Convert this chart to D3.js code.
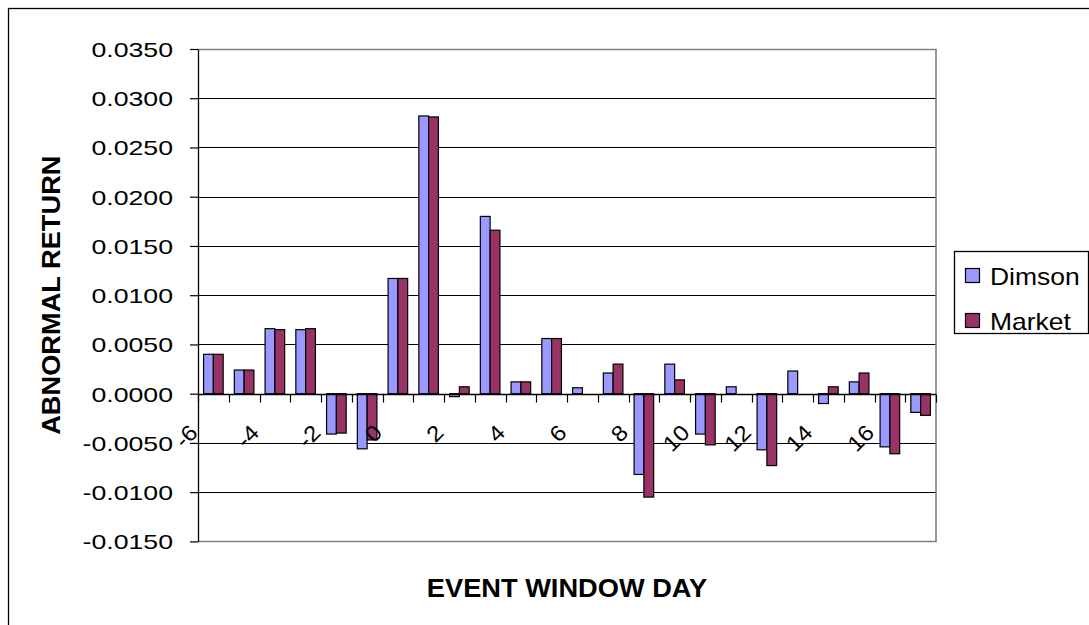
<!DOCTYPE html>
<html>
<head>
<meta charset="utf-8">
<script src="https://cdn.jsdelivr.net/npm/d3@7"></script>
<style>
  html, body { margin: 0; padding: 0; background: #fff; }
  svg { display: block; font-family: "Liberation Sans", Arial, sans-serif; }
</style>
</head>
<body>
<svg id="chart" width="1089" height="625"></svg>
<script>
// Event window days and abnormal returns for the two models
const days = [-6, -5, -4, -3, -2, -1, 0, 1, 2, 3, 4, 5, 6, 7, 8, 9, 10, 11, 12, 13, 14, 15, 16, 17];
const dimson = [0.0040, 0.0024, 0.0066, 0.0065, -0.0041, -0.0056, 0.0117, 0.0282, -0.0003, 0.0180, 0.0012, 0.0056,
                0.0006, 0.0021, -0.0082, 0.0030, -0.0041, 0.0007, -0.0057, 0.0023, -0.0010, 0.0012, -0.0054, -0.0019];
const market = [0.0040, 0.0024, 0.0065, 0.0066, -0.0040, -0.0047, 0.0117, 0.0281, 0.0007, 0.0166, 0.0012, 0.0056,
                0.0000, 0.0030, -0.0105, 0.0014, -0.0052, 0.0000, -0.0073, 0.0000, 0.0007, 0.0021, -0.0061, -0.0022];
const seriesNames = ["Dimson", "Market"];
const seriesColors = ["#9999FF", "#993366"];
const yTicks = [-0.015, -0.010, -0.005, 0, 0.005, 0.010, 0.015, 0.020, 0.025, 0.030, 0.035];
const xLabelDays = [-6, -4, -2, 0, 2, 4, 6, 8, 10, 12, 14, 16];

const svg = d3.select("#chart");
const plot = { left: 198, right: 936, top: 49, bottom: 541.4 };

// Outer chart frame
svg.append("rect")
  .attr("x", 8.5).attr("y", 8.5).attr("width", 1100).attr("height", 700)
  .attr("fill", "#fff").attr("stroke", "#000").attr("stroke-width", 1.3);

const x0 = d3.scaleBand().domain(days).range([plot.left, plot.right]).padding(0);
const x1 = d3.scaleBand().domain(seriesNames).range([0, x0.bandwidth()])
  .paddingInner(0).paddingOuter(0.57);
const y = d3.scaleLinear().domain([-0.015, 0.035]).range([plot.bottom, plot.top]);

// Horizontal gridlines
svg.append("g").selectAll("line")
  .data(yTicks.filter(v => v < 0.035 && v > -0.015))
  .join("line")
  .attr("x1", plot.left).attr("x2", plot.right)
  .attr("y1", d => Math.round(y(d)) + 0.5).attr("y2", d => Math.round(y(d)) + 0.5)
  .attr("stroke", "#000").attr("stroke-width", 1.2);

// Plot area border (top, right, bottom)
svg.append("path")
  .attr("d", `M${plot.left},${Math.round(plot.top)+0.5}H${plot.right}V${Math.round(plot.bottom)+0.5}H${plot.left}`)
  .attr("fill", "none").attr("stroke", "#808080").attr("stroke-width", 1.6);

// Bars
const rows = days.map((d, i) => ({ day: d, values: [dimson[i], market[i]] }));
const groups = svg.append("g").selectAll("g")
  .data(rows).join("g")
  .attr("transform", d => `translate(${x0(d.day)},0)`);
groups.selectAll("rect")
  .data(d => d.values.map((v, k) => ({ name: seriesNames[k], value: v, k })))
  .join("rect")
  .attr("x", d => x1(d.name))
  .attr("width", x1.bandwidth())
  .attr("y", d => y(Math.max(0, d.value)))
  .attr("height", d => Math.abs(y(d.value) - y(0)))
  .attr("fill", d => seriesColors[d.k])
  .attr("stroke", "#000").attr("stroke-width", 1.2);

// Y axis (plain hyphen for negatives)
const fmt = d3.format(".4f");
const yAxis = svg.append("g")
  .attr("transform", `translate(${plot.left},0)`)
  .call(d3.axisLeft(y).tickValues(yTicks).tickSize(8).tickSizeOuter(0)
    .tickFormat(d => fmt(d).replace("\u2212", "-")));
yAxis.select(".domain").attr("stroke", "#000").attr("stroke-width", 1.3);
yAxis.selectAll(".tick line").attr("stroke", "#000").attr("stroke-width", 1.2);
yAxis.selectAll(".tick text")
  .attr("x", null).attr("dy", null)
  .attr("transform", "translate(-25,7.5) scale(1.27,1)")
  .attr("text-anchor", "end")
  .attr("font-size", 21)
  .attr("fill", "#000");

// X axis line at zero with tick marks on category boundaries
const y0 = Math.round(y(0)) + 0.5;
svg.append("line")
  .attr("x1", plot.left).attr("x2", plot.right)
  .attr("y1", y0).attr("y2", y0)
  .attr("stroke", "#000").attr("stroke-width", 1.3);
const boundaries = days.map(d => x0(d)).concat([plot.right]);
svg.append("g").selectAll("line")
  .data(boundaries).join("line")
  .attr("x1", d => Math.round(d) + 0.5).attr("x2", d => Math.round(d) + 0.5)
  .attr("y1", y0).attr("y2", y0 + 8)
  .attr("stroke", "#000").attr("stroke-width", 1.2);

// Rotated category labels
svg.append("g").selectAll("text")
  .data(xLabelDays).join("text")
  .attr("transform", d => `translate(${x0(d) + 1},434) rotate(-45) scale(1.1,1)`)
  .attr("text-anchor", "end")
  .attr("font-size", 22)
  .attr("fill", "#000")
  .text(d => String(d));

// Axis titles
svg.append("text")
  .attr("transform", `translate(${(plot.left + plot.right) / 2},597) scale(1.09,1)`)
  .attr("text-anchor", "middle")
  .attr("font-size", 25).attr("font-weight", "bold")
  .text("EVENT WINDOW DAY");
svg.append("text")
  .attr("transform", `translate(60,${(plot.top + plot.bottom) / 2}) rotate(-90) scale(1.09,1)`)
  .attr("text-anchor", "middle")
  .attr("font-size", 25).attr("font-weight", "bold")
  .text("ABNORMAL RETURN");

// Legend
const legend = svg.append("g");
legend.append("rect")
  .attr("x", 954.5).attr("y", 251.5).attr("width", 134).attr("height", 82)
  .attr("fill", "#fff").attr("stroke", "#000").attr("stroke-width", 1.3);
const items = legend.selectAll("g.item")
  .data(seriesNames).join("g").attr("class", "item")
  .attr("transform", (d, i) => `translate(965,${268 + i * 45})`);
items.append("rect")
  .attr("x", 0.5).attr("y", 0.5).attr("width", 14).attr("height", 14)
  .attr("fill", (d, i) => seriesColors[i]).attr("stroke", "#000").attr("stroke-width", 1.2);
items.append("text")
  .attr("transform", "translate(25,17) scale(1.15,1)")
  .attr("font-size", 23)
  .attr("fill", "#000")
  .text(d => d);
</script>
</body>
</html>
